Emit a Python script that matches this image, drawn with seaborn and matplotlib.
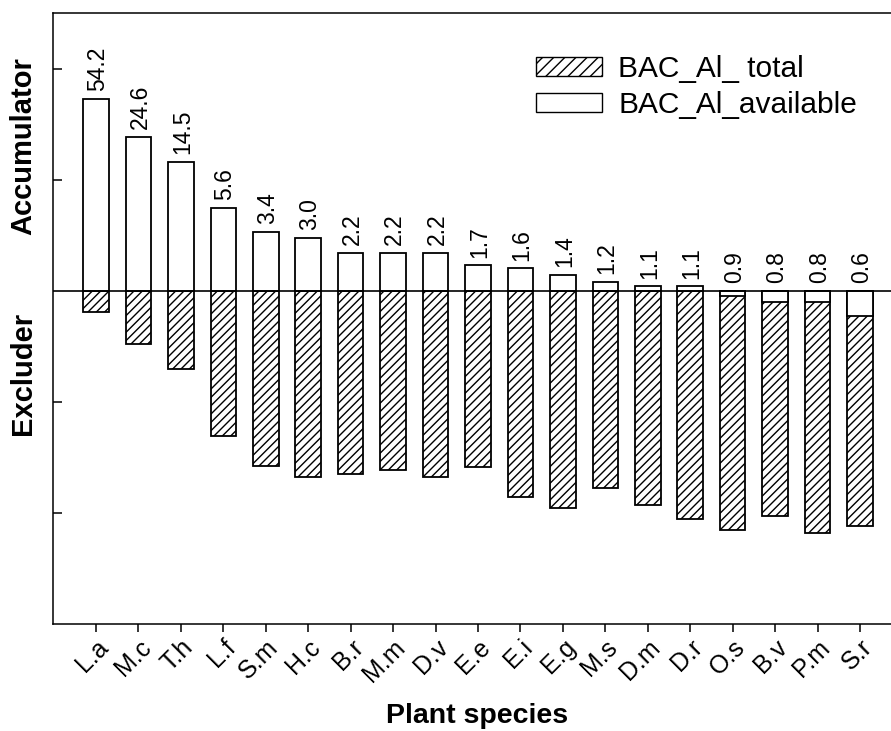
import numpy as np
import pandas as pd
import matplotlib
matplotlib.use("Agg")
import matplotlib.pyplot as plt
import seaborn as sns
from matplotlib.patches import Patch

# Data (bioaccumulation coefficients, log-scaled display)
species = ["L.a", "M.c", "T.h", "L.f", "S.m", "H.c", "B.r", "M.m", "D.v", "E.e",
           "E.i", "E.g", "M.s", "D.m", "D.r", "O.s", "B.v", "P.m", "S.r"]
bac_available = [54.2, 24.6, 14.5, 5.6, 3.4, 3.0, 2.2, 2.2, 2.2, 1.7,
                 1.6, 1.4, 1.2, 1.1, 1.1, 0.9, 0.8, 0.8, 0.6]
bac_total = [0.65, 0.33, 0.20, 0.049, 0.0265, 0.0211, 0.0225, 0.0244, 0.0211, 0.026,
             0.0139, 0.0111, 0.0168, 0.0118, 0.0088, 0.0070, 0.0094, 0.0066, 0.0076]

df = pd.DataFrame({
    "species": species,
    "available": bac_available,
    "total": bac_total,
})
# bars are drawn from 1 on a log axis -> plot log10 values from zero
df["log_available"] = np.log10(df["available"])
df["log_total"] = np.log10(df["total"])

sns.set_style("ticks")
plt.rcParams["font.family"] = ["Liberation Sans", "DejaVu Sans"]
plt.rcParams["hatch.linewidth"] = 1.0
for key in ["text.color", "axes.labelcolor", "xtick.color", "ytick.color", "axes.edgecolor"]:
    plt.rcParams[key] = "black"

fig = plt.figure(figsize=(8.91, 7.31), dpi=100)
ax = fig.add_axes([53 / 891, 1 - 624 / 731, 1 - 53 / 891, (624 - 13) / 731])

sns.barplot(data=df, x="species", y="log_total", color="white", saturation=1,
            edgecolor="black", linewidth=1.3, hatch="////", width=0.6, ax=ax)
sns.barplot(data=df, x="species", y="log_available", color="white", saturation=1,
            edgecolor="black", linewidth=1.3, width=0.6, ax=ax)

ax.axhline(0, color="black", lw=1.2)

# value labels above the available bars
for i, row in df.iterrows():
    ax.text(i + 0.04, max(row["log_available"], 0) + 0.07, f"{row['available']:.1f}",
            rotation=90, ha="center", va="bottom", fontsize=16.5)

ax.set_xlim(-1.013, 18.73)
ax.set_ylim(-3.0, 2.505)
ax.set_yticks([-2, -1, 1, 2])
ax.set_yticklabels([])
ax.tick_params(axis="y", direction="in", length=6.5, width=1.1)
ax.tick_params(axis="x", direction="out", length=6, width=1.1, pad=2)
ax.set_xticks(range(len(species)))
ax.set_xticklabels(species, rotation=45, ha="right", rotation_mode="anchor",
                   fontsize=18)
ax.set_xlabel("")
ax.set_ylabel("")
for side in ["left", "bottom", "top"]:
    ax.spines[side].set_linewidth(1.1)
ax.spines["right"].set_visible(False)

handles = [
    Patch(facecolor="white", edgecolor="black", hatch="///", label="BAC_Al_ total"),
    Patch(facecolor="white", edgecolor="black", label="BAC_Al_available"),
]
ax.legend(handles=handles, loc="upper left", bbox_to_anchor=(0.5625, 0.95),
          frameon=False, fontsize=21.5, handlelength=2.2, handleheight=0.6,
          handletextpad=0.55, labelspacing=0.25, borderaxespad=0)

fig.text(23 / 891, 1 - 146 / 731, "Accumulator", rotation=90, ha="center",
         va="center", fontsize=21, fontweight="bold")
fig.text(23 / 891, 1 - 373 / 731, "Excluder", rotation=90, ha="center",
         va="center", fontsize=21, fontweight="bold")
fig.text(477 / 891, 1 - 716 / 731, "Plant species", ha="center", va="center",
         fontsize=20.5, fontweight="bold")

fig.savefig("out.png", dpi=100)
